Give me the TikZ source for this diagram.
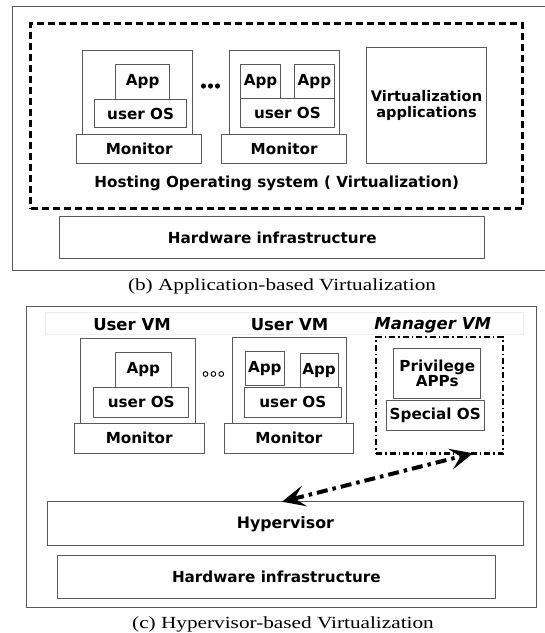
\documentclass[tikz,border=0pt]{standalone}
\usepackage{fontspec}
\setmainfont{DejaVu Sans}
\newfontfamily\capfont{Liberation Serif}[FakeStretch=1.25]
\usetikzlibrary{arrows.meta}
\newcommand\rbox[7][]{\node[bx,#1,anchor=north west,minimum width={(#5-#3)*1pt},minimum height={(#6-#4)*1pt}] (#2) at (#3,#4) {#7};}
\begin{document}
\begin{tikzpicture}[x=1pt,y=-1pt,
  bx/.style={draw=black!65,line width=0.9pt,inner sep=0pt,outer sep=0pt,
    font=\fontsize{15.2}{15.6}\selectfont\bfseries,align=center},
  lbl/.style={inner sep=0pt,font=\fontsize{15.2}{15.6}\selectfont\bfseries},
  ttl/.style={inner sep=0pt,font=\fontsize{16.5}{18}\selectfont\bfseries},
  captxt/.style={inner sep=0pt,font=\capfont\fontsize{17}{19}\selectfont},
  dashbox/.style={draw=black,line width=2.4pt,dash pattern=on 7pt off 4pt},
  ddbox/.style={draw=black,line width=2.4pt,dash pattern=on 6pt off 3pt on 1.5pt off 3pt},
  linkarrow/.style={line width=4pt,dash pattern=on 11pt off 5pt on 3.5pt off 5pt,
    {Stealth[length=23pt,width=21pt,inset=10pt]}-{Stealth[length=23pt,width=21pt,inset=10pt]}}]
\useasboundingbox (0,0) rectangle (545,633);
% ---------------- (b) ----------------
\rbox{outerb}{12.7}{6}{547}{270}{}
\rbox[dashbox]{hostos}{30.6}{23.3}{522.3}{208.3}{}
\rbox{vmb1}{82.4}{50.7}{192.6}{134}{}
\rbox{monb1}{76.8}{134}{201.6}{163.3}{Monitor}
\rbox{appb1}{115.7}{64.7}{169.6}{99.3}{App}
\rbox{osb1}{94.9}{99.3}{186.3}{127.7}{user OS}
\rbox{vmb2}{229}{50.7}{339.6}{134}{}
\rbox{monb2}{221.8}{134}{346.5}{163.3}{Monitor}
\rbox{appb2a}{240.9}{64.7}{280.2}{98.3}{App}
\rbox{appb2b}{294.8}{64.7}{334}{98.3}{App}
\rbox{osb2}{240.2}{98.3}{334.7}{127.7}{user OS}
\rbox[font=\fontsize{14.6}{15.6}\selectfont\bfseries]{virtapps}{366.4}{47.3}{486.6}{163.3}{Virtualization\\applications}
\node[lbl] (hosttxt) at (276.7,183.3) {Hosting Operating system ( Virtualization)};
\rbox{hwb}{59.8}{216.7}{484.7}{258.7}{Hardware infrastructure}
\foreach \i/\x in {1/203.5,2/210.5,3/217.5}{\fill (\x,86) circle (2.6pt);}
\node[captxt] (capb) at (282,286.7) {(b) Application-based Virtualization};
% ---------------- (c) ----------------
\rbox{outerc}{26}{306}{536.3}{607.5}{}
\rbox[draw=black!7]{titles}{45}{312.7}{523}{334}{}
\node[ttl] (t1) at (132,325) {User VM};
\node[ttl] (t2) at (289.5,325) {User VM};
\node[ttl,font=\fontsize{16.5}{18}\selectfont\bfseries\itshape] (t3) at (432.7,325) {Manager VM};
\rbox{vmc1}{80.3}{338.3}{195.3}{423.3}{}
\rbox{monc1}{74.4}{423.3}{204}{453.3}{Monitor}
\rbox{appc1}{115.7}{352}{171}{387.7}{App}
\rbox{osc1}{93.8}{387.7}{188.7}{417}{user OS}
\rbox{vmc2}{232.2}{337.7}{346.2}{423.3}{}
\rbox{monc2}{224.2}{423.3}{353.5}{453.3}{Monitor}
\rbox{appc2a}{245.7}{351.7}{284}{385.7}{App}
\rbox{appc2b}{300}{353.7}{338.2}{387.3}{App}
\rbox{osc2}{244.3}{387.3}{341.3}{417}{user OS}
\foreach \x in {205.5,213.4,221.3}{\draw[line width=0.9pt] (\x,374) circle (2.4pt);}
\rbox[ddbox]{mgr}{376}{337}{503}{453.3}{}
\rbox{priv}{393.8}{348.7}{480.7}{398.3}{Privilege\\APPs}
\rbox{spos}{386.2}{400}{484.2}{430}{Special OS}
\rbox[font=\fontsize{15.8}{17}\selectfont\bfseries]{hyp}{47.6}{501.7}{523.1}{545.7}{Hypervisor}
\rbox{hwc}{57.4}{555}{495.3}{598.3}{Hardware infrastructure}
\draw[linkarrow] (282,0 |- hyp.north) -- (473,0 |- mgr.south);
\node[captxt] (capc) at (283,624) {(c) Hypervisor-based Virtualization};
\end{tikzpicture}
\end{document}
